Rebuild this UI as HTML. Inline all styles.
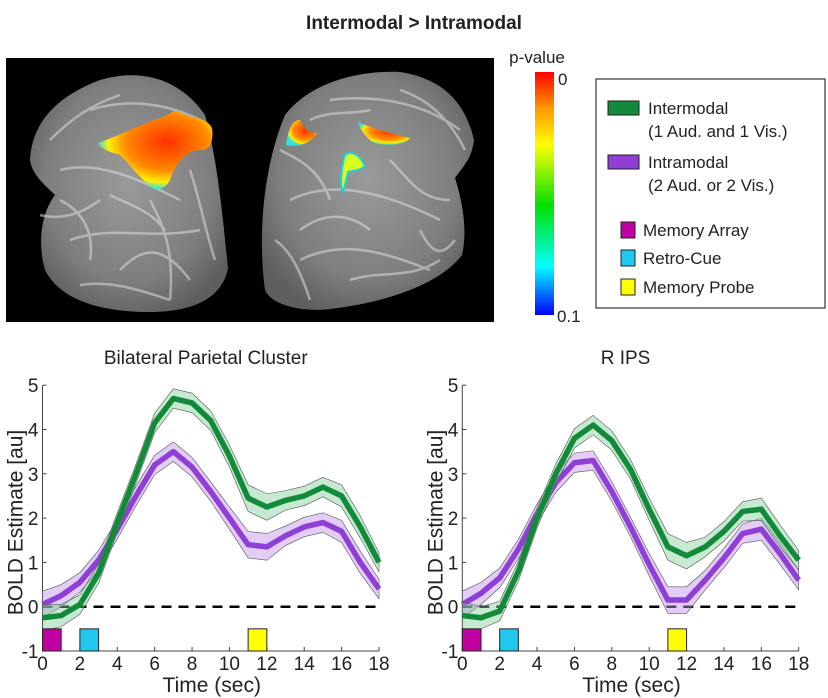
<!DOCTYPE html>
<html><head><meta charset="utf-8"><style>
body{margin:0;background:#fff;width:828px;height:698px;overflow:hidden;font-family:"Liberation Sans",Arial,sans-serif}
svg{display:block}
text{font-family:"Liberation Sans",Arial,sans-serif;fill:#222}
</style></head><body>
<svg id="root" width="828" height="698" viewBox="0 0 828 698">
<defs>
<radialGradient id="brainG" cx="50%" cy="45%" r="60%"><stop offset="0" stop-color="#9a9a9a"/><stop offset="0.7" stop-color="#7e7e7e"/><stop offset="1" stop-color="#5e5e5e"/></radialGradient>
<linearGradient id="cbar" x1="0" y1="1" x2="0" y2="0"><stop offset="0" stop-color="#0000ff"/><stop offset="0.2" stop-color="#00ffff"/><stop offset="0.45" stop-color="#00e000"/><stop offset="0.7" stop-color="#ffff00"/><stop offset="0.85" stop-color="#ff9900"/><stop offset="1" stop-color="#ff0000"/></linearGradient>
<radialGradient id="blob" cx="60%" cy="40%" r="60%"><stop offset="0" stop-color="#ff3000"/><stop offset="0.6" stop-color="#ff8a00"/><stop offset="0.85" stop-color="#ffee00"/><stop offset="1" stop-color="#30e0e0"/></radialGradient>
</defs>
<text x="414" y="29" text-anchor="middle" font-size="19" font-weight="bold">Intermodal &gt; Intramodal</text>
<g>
<rect x="6" y="58" width="488" height="264" fill="#000"/>
<path d="M30,160 C32,120 60,95 100,80 C140,68 180,78 205,115 C218,160 224,230 228,268 C222,300 190,312 150,312 C100,312 60,300 45,270 C38,245 40,215 55,195 C45,185 32,175 30,160 Z" fill="url(#brainG)"/>
<path d="M265,290 C258,240 262,170 285,115 C310,82 360,70 400,72 C440,78 465,100 474,140 C472,160 460,170 455,178 C462,200 468,230 462,255 C440,285 380,305 320,310 C290,310 270,302 265,290 Z" fill="url(#brainG)"/>
<g stroke="#dcdcdc" stroke-width="2.5" fill="none" opacity="0.55">
<path d="M60,170 C100,160 140,180 180,200 M70,240 C110,225 150,240 200,230 M120,270 C140,250 160,240 190,280 M90,110 C120,100 160,100 200,120 M290,200 C330,180 380,190 440,220 M300,260 C340,240 380,250 430,270 M330,100 C370,95 420,100 460,130"/>
<path d="M50,140 C70,120 90,105 120,95 M60,200 C80,210 95,230 90,260 M150,200 C160,220 175,245 170,300 M110,195 C130,205 150,210 165,230 M190,170 C200,200 205,230 215,260 M80,285 C110,280 140,290 170,300 M40,215 C60,220 80,215 100,200"/>
<path d="M280,150 C300,160 320,170 330,200 M300,230 C320,215 345,210 370,230 M390,160 C410,180 420,200 450,200 M350,280 C380,270 410,280 440,260 M275,240 C290,250 300,270 310,300 M400,90 C430,100 450,120 465,150 M310,120 C330,110 350,115 370,110 M420,230 C430,250 440,260 455,240"/>
</g>
<path d="M98,143 C120,135 140,125 160,118 C170,115 175,108 180,112 C190,120 205,115 212,128 C214,140 210,152 200,150 C185,150 175,165 170,180 C165,190 155,192 150,186 C140,178 130,165 120,155 C110,152 102,150 98,143 Z" fill="url(#blob)"/>
<path d="M286,145 C288,130 292,120 300,120 C304,130 312,135 318,132 C312,142 300,148 286,145 Z" fill="url(#blob)"/>
<path d="M358,122 C372,128 385,132 410,138 C405,145 385,147 372,142 C365,135 360,130 358,122 Z" fill="url(#blob)"/>
<path d="M345,155 C352,150 360,155 365,166 C358,172 352,170 348,172 C346,182 344,190 342,192 C340,180 342,165 345,155 Z" fill="#d8ff20" stroke="#20d0e0" stroke-width="2"/>
</g>
<g>
<text x="537" y="63" text-anchor="middle" font-size="17">p-value</text>
<rect x="535" y="72" width="19" height="243" fill="url(#cbar)"/>
<text x="558" y="85" font-size="17">0</text>
<text x="557" y="322" font-size="17">0.1</text>
</g>
<g>
<rect x="596" y="79" width="229" height="229" fill="#fff" stroke="#333" stroke-width="1.2"/>
<rect x="608" y="101" width="31" height="14" fill="#138a3a" stroke="#222"/>
<text x="648" y="114" font-size="17">Intermodal</text>
<text x="648" y="137" font-size="17">(1 Aud. and 1 Vis.)</text>
<rect x="608" y="155" width="31" height="14" fill="#8d3fd6" stroke="#222"/>
<text x="648" y="168" font-size="17">Intramodal</text>
<text x="648" y="191" font-size="17">(2 Aud. or 2 Vis.)</text>
<rect x="621" y="222" width="14" height="16" fill="#c000a0" stroke="#222"/>
<text x="643" y="236" font-size="17">Memory Array</text>
<rect x="621" y="250" width="14" height="16" fill="#20c8f0" stroke="#222"/>
<text x="643" y="264" font-size="17">Retro-Cue</text>
<rect x="621" y="279" width="14" height="16" fill="#ffff00" stroke="#222"/>
<text x="643" y="293" font-size="17">Memory Probe</text>
</g>
<g id="c1"></g><g id="c2"></g>
</svg>
<script>
const times=[0,1,2,3,4,5,6,7,8,9,10,11,12,13,14,15,16,17,18];
const leftInter=[-0.25,-0.2,0.05,0.75,1.9,3.0,4.15,4.7,4.6,4.2,3.4,2.45,2.25,2.4,2.5,2.7,2.5,1.8,1.0];
const leftIntra=[0.05,0.25,0.55,1.05,1.75,2.5,3.2,3.5,3.15,2.6,2.0,1.4,1.35,1.6,1.8,1.9,1.7,1.0,0.4];
const rightInter=[-0.2,-0.25,-0.1,0.8,2.0,3.0,3.8,4.1,3.75,3.1,2.2,1.35,1.15,1.35,1.7,2.15,2.2,1.6,1.05];
const rightIntra=[0.05,0.3,0.65,1.3,2.1,2.8,3.25,3.3,2.6,1.8,0.95,0.15,0.15,0.6,1.1,1.65,1.75,1.2,0.6];
const errWidth=[0.3,0.25,0.22,0.22,0.22,0.22,0.22,0.22,0.22,0.22,0.25,0.3,0.3,0.22,0.22,0.22,0.25,0.25,0.22];
const eventStarts=[0,2,11];
const eventNames=['memory-array-marker','retro-cue-marker','memory-probe-marker'];
const eventColors=['#c000a0','#20c8f0','#ffff00'];
const yTicks=[-1,0,1,2,3,4,5];
const xTicks=[0,2,4,6,8,10,12,14,16,18];
const NS='http://www.w3.org/2000/svg';
function mk(p,tag,at){const e=document.createElementNS(NS,tag);for(const k in at)e.setAttribute(k,at[k]);p.appendChild(e);return e;}
function chart(g,x0,x1,title,inter,intra){
  const y0=606.7,unit=44.3;
  const X=t=>x0+(x1-x0)*t/18, Y=v=>y0-v*unit;
  const cx=(x0+x1)/2;
  let t=mk(g,'text',{x:cx-5,y:364,'text-anchor':'middle','font-size':19});t.textContent=title;
  
  
  mk(g,'line',{x1:x0,y1:Y(5),x2:x0,y2:Y(-1),stroke:'#444','stroke-width':1});
  mk(g,'line',{x1:x0,y1:Y(-1),x2:x1,y2:Y(-1),stroke:'#444','stroke-width':1});
  yTicks.forEach(v=>{mk(g,'line',{x1:x0,y1:Y(v),x2:x0+4,y2:Y(v),stroke:'#444'});
    const tx=mk(g,'text',{x:x0-4,y:Y(v)+7,'text-anchor':'end','font-size':19});tx.textContent=v;
    
    });
  xTicks.forEach(v=>{mk(g,'line',{x1:X(v),y1:Y(-1),x2:X(v),y2:Y(-1)-4,stroke:'#444'});
    const tx=mk(g,'text',{x:X(v),y:670,'text-anchor':'middle','font-size':19});tx.textContent=v;
    
    });
  const xl=mk(g,'text',{x:cx+1,y:692,'text-anchor':'middle','font-size':21});xl.textContent='Time (sec)';
  
  
  const yl=mk(g,'text',{x:0,y:0,'text-anchor':'middle','font-size':21,transform:`translate(${x0-20},${Y(1.9)}) rotate(-90)`});yl.textContent='BOLD Estimate [au]';
  
  
  const z=mk(g,'line',{x1:X(0),y1:Y(0),x2:X(18),y2:Y(0),stroke:'#000','stroke-width':2.5,'stroke-dasharray':'10,7'});
  
  
  function series(vals,band,line,name){
    const up=vals.map((v,i)=>X(times[i])+','+Y(v+errWidth[i]));
    const dn=vals.map((v,i)=>X(times[i])+','+Y(v-errWidth[i])).reverse();
    const b=mk(g,'polygon',{points:up.concat(dn).join(' '),fill:band,stroke:'#555','stroke-width':0.6,'fill-opacity':0.45});
    
    
    const l=mk(g,'polyline',{points:vals.map((v,i)=>X(times[i])+','+Y(v)).join(' '),fill:'none',stroke:line,'stroke-width':5.5,'stroke-linejoin':'round'});
    
    
  }
  series(intra,'#c28ee8','#8d3fd6','intramodal');
  series(inter,'#7fcf98','#138a3a','intermodal');
  eventStarts.forEach((s,i)=>{const r=mk(g,'rect',{x:X(s),y:Y(-0.5),width:X(s+1)-X(s),height:Y(-1)-Y(-0.5),fill:eventColors[i],stroke:'#222','stroke-width':1});
    
    });
}
const c1=document.getElementById('c1');


const c2=document.getElementById('c2');


chart(c1,42.5,379,'Bilateral Parietal Cluster',leftInter,leftIntra);
chart(c2,462.3,798.7,'R IPS',rightInter,rightIntra);
</script>
</body></html>
